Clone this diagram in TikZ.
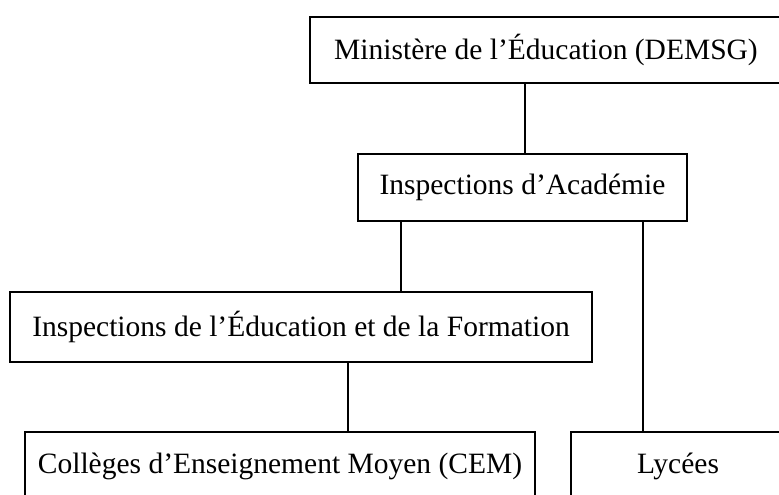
\documentclass[tikz,border=0pt]{standalone}
\usepackage{fontspec}
\setmainfont{Liberation Serif}
\begin{document}
\begin{tikzpicture}[x=1pt,y=-1pt,
  box/.style={draw=black, line width=1.8pt, fill=white, inner sep=0pt, font=\fontsize{29.5}{34}\selectfont},
  link/.style={draw=black, line width=1.8pt}]
\useasboundingbox (0,0) rectangle (779,495);
\clip (0,0) rectangle (779,495);
\fill[white] (0,0) rectangle (779,495);
\node[box, minimum width=472pt, minimum height=66pt] (b1) at (546,50) {Ministère de l’Éducation (DEMSG)};
\node[box, minimum width=329pt, minimum height=67pt] (b2) at (522.5,187.5) {Inspections d’Académie};
\node[box, minimum width=582pt, minimum height=70pt] (b3) at (301,327) {Inspections de l’Éducation et de la Formation};
\node[box, minimum width=510pt, minimum height=68pt] (b4) at (280,466) {Collèges d’Enseignement Moyen (CEM)};
\node[box, minimum width=214pt, minimum height=68pt] (b5) at (678,466) {Lycées};
\draw[link] (b1.south -| 525,0) -- (b2.north -| 525,0);
\draw[link] (b2.south -| 401,0) -- (b3.north -| 401,0);
\draw[link] (b2.south -| 643,0) -- (b5.north -| 643,0);
\draw[link] (b3.south -| 348,0) -- (b4.north -| 348,0);
\end{tikzpicture}
\end{document}
